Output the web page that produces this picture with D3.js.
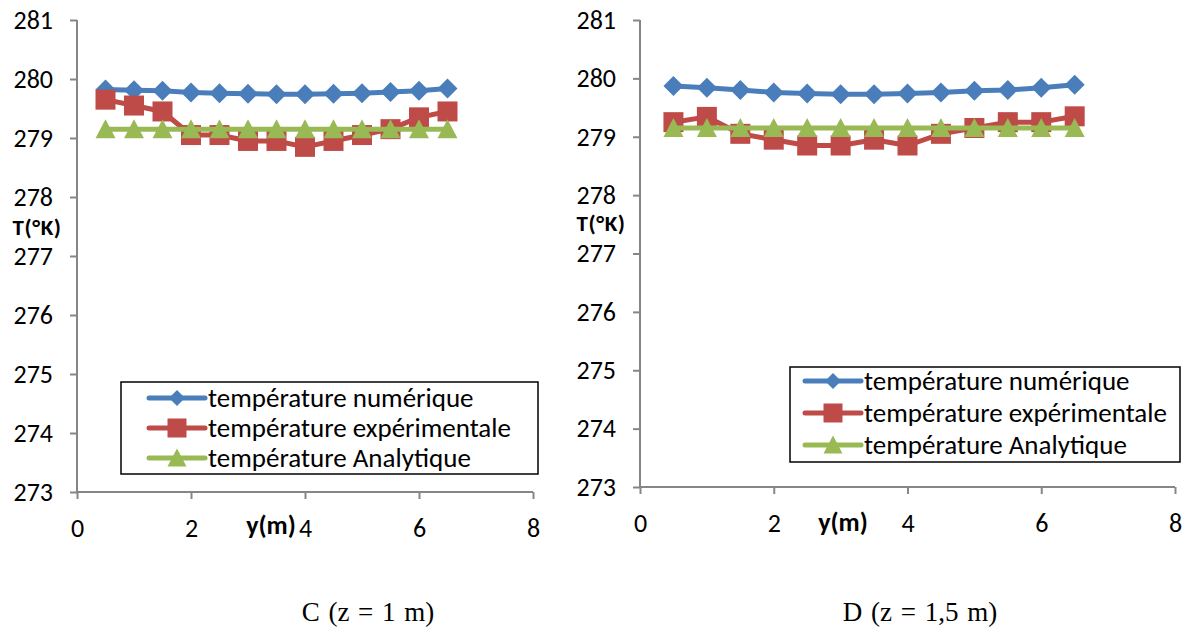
<!DOCTYPE html>
<html>
<head>
<meta charset="utf-8">
<script src="https://cdn.jsdelivr.net/npm/d3@7"></script>
<style>
  body { margin: 0; background: #fff; }
  svg { display: block; }
</style>
</head>
<body>
<div id="chart"></div>
<script>

// positions along y (m)
const yPos = [0.5, 1, 1.5, 2, 2.5, 3, 3.5, 4, 4.5, 5, 5.5, 6, 6.5];

// panel C (z = 1 m)
const numC = [279.82, 279.81, 279.80, 279.77, 279.76, 279.75, 279.74, 279.74, 279.75, 279.76, 279.78, 279.80, 279.84];
const expC = [279.65, 279.55, 279.45, 279.05, 279.05, 278.95, 278.95, 278.85, 278.95, 279.05, 279.15, 279.35, 279.45];
const anaC = [279.15, 279.15, 279.15, 279.15, 279.15, 279.15, 279.15, 279.15, 279.15, 279.15, 279.15, 279.15, 279.15];

// panel D (z = 1,5 m)
const numD = [279.87, 279.84, 279.80, 279.76, 279.74, 279.73, 279.73, 279.74, 279.76, 279.79, 279.80, 279.84, 279.89];
const expD = [279.25, 279.34, 279.05, 278.95, 278.85, 278.85, 278.95, 278.85, 279.05, 279.15, 279.25, 279.25, 279.35];
const anaD = [279.15, 279.15, 279.15, 279.15, 279.15, 279.15, 279.15, 279.15, 279.15, 279.15, 279.15, 279.15, 279.15];

const seriesNames = ["température numérique", "température expérimentale", "température Analytique"];
const xTicks = [0, 2, 4, 6, 8];
const yTicks = [273, 274, 275, 276, 277, 278, 279, 280, 281];
const captions = ["C (z = 1 m)", "D (z = 1,5 m)"];

const colors = ["#4A7EBB", "#BE4B48", "#98B954"];
const shapes = ["diamond", "square", "triangle"];
const font = "Calibri, Carlito, Lato, sans-serif";

const width = 1190, height = 635;
const svg = d3.select("#chart").append("svg")
    .attr("width", width)
    .attr("height", height);

// layout of each panel
const panels = [
  { data: [numC, expC, anaC], left: 77, right: 533, top: 20, bottom: 492,
    tLabel: [37, 226.5], yLabel: [271, 525],
    legend: { x: 121, y: 382, w: 417, h: 92, pad: 28, rows: [398, 428, 458] },
    caption: [368, 621] },
  { data: [numD, expD, anaD], left: 640, right: 1175, top: 20, bottom: 487,
    tLabel: [601, 223], yLabel: [843, 522],
    legend: { x: 790, y: 367, w: 390, h: 95, pad: 15, rows: [381, 413, 445] },
    caption: [920, 621] }
];

function markerPath(shape, s) {
  if (shape == "diamond") return `M0,${-s}L${s},0L0,${s}L${-s},0Z`;
  if (shape == "square") return `M${-s},${-s}H${s}V${s}H${-s}Z`;
  return `M0,${-s}L${s},${s * 0.9}L${-s},${s * 0.9}Z`;
}

panels.forEach(function(p, pi) {
  const x = d3.scaleLinear().domain([0, 8]).range([p.left, p.right]);
  const y = d3.scaleLinear().domain([273, 281]).range([p.bottom, p.top]);
  const g = svg.append("g");

  // y axis
  const yAxis = g.append("g")
      .attr("transform", `translate(${p.left},0)`)
      .call(d3.axisLeft(y).tickValues(yTicks).tickSize(7).tickPadding(17).tickFormat(d3.format("d")));
  // x axis
  const xAxis = g.append("g")
      .attr("transform", `translate(0,${p.bottom})`)
      .call(d3.axisBottom(x).tickValues(xTicks).tickSize(7).tickPadding(20).tickFormat(d3.format("d")));

  [yAxis, xAxis].forEach(function(a) {
    a.select(".domain").attr("stroke", "#868686").attr("stroke-width", 2);
    a.selectAll(".tick line").attr("stroke", "#868686").attr("stroke-width", 2);
    a.selectAll(".tick text").attr("fill", "#000")
        .style("font-family", font).style("font-size", "26px");
  });
  xAxis.select(".domain").attr("d", `M${p.left},0H${p.right}`);
  yAxis.select(".domain").attr("d", `M0,${p.bottom}V${p.top}`);

  // axis titles
  g.append("text")
      .attr("x", p.tLabel[0]).attr("y", p.tLabel[1])
      .attr("text-anchor", "middle").attr("dy", "0.35em")
      .style("font-family", font).style("font-size", "23px").style("font-weight", "bold")
      .style("letter-spacing", "0.6px")
      .text("T(°K)");
  g.append("text")
      .attr("x", p.yLabel[0]).attr("y", p.yLabel[1])
      .attr("text-anchor", "middle").attr("dy", "0.35em")
      .style("font-family", font).style("font-size", "26px").style("font-weight", "bold")
      .text("y(m)");

  // series
  p.data.forEach(function(vals, si) {
    const pts = yPos.map((v, i) => [v, vals[i]]);
    g.append("path")
        .datum(pts)
        .attr("fill", "none")
        .attr("stroke", colors[si])
        .attr("stroke-width", 5)
        .attr("stroke-linejoin", "round")
        .attr("d", d3.line().x(d => x(d[0])).y(d => y(d[1])));
    g.append("g").selectAll("path")
        .data(pts)
        .join("path")
        .attr("transform", d => `translate(${x(d[0])},${y(d[1])})`)
        .attr("d", markerPath(shapes[si], 10))
        .attr("fill", colors[si]);
  });

  // legend
  const L = p.legend;
  g.append("rect")
      .attr("x", L.x).attr("y", L.y).attr("width", L.w).attr("height", L.h)
      .attr("fill", "#fff").attr("stroke", "#000").attr("stroke-width", 1.5);
  const sx = L.x + L.pad;
  seriesNames.forEach(function(name, si) {
    const ry = L.rows[si];
    g.append("line")
        .attr("x1", sx).attr("x2", sx + 56).attr("y1", ry).attr("y2", ry)
        .attr("stroke", colors[si]).attr("stroke-width", 5).attr("stroke-linecap", "round");
    g.append("path")
        .attr("transform", `translate(${sx + 28},${ry})`)
        .attr("d", markerPath(shapes[si], si == 0 ? 8 : 9.5))
        .attr("fill", colors[si]);
    g.append("text")
        .attr("x", sx + 59).attr("y", ry).attr("dy", "0.35em")
        .style("font-family", font).style("font-size", "27px")
        .text(name);
  });

  // caption
  svg.append("text")
      .attr("x", p.caption[0]).attr("y", p.caption[1])
      .attr("text-anchor", "middle")
      .style("font-family", "'Liberation Serif', 'Times New Roman', serif").style("font-size", "27px")
      .attr("word-spacing", "2px")
      .text(captions[pi]);
});

</script>
</body>
</html>
